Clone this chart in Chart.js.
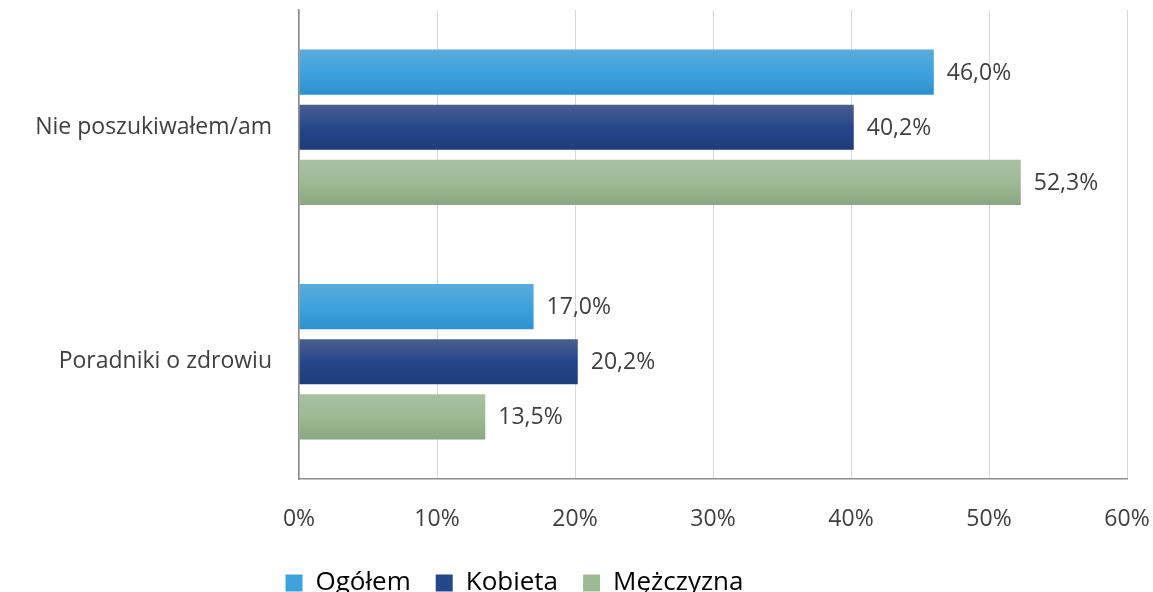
<!DOCTYPE html>
<html>
<head>
<meta charset="utf-8">
<script src="https://cdn.jsdelivr.net/npm/chart.js@4/dist/chart.umd.min.js"></script>
<style>
  html, body { margin: 0; padding: 0; background: #ffffff; }
  #wrap { width: 1153px; height: 592px; position: relative; }
</style>
</head>
<body>
<div id="wrap"><canvas id="c"></canvas></div>
<script>
const categories = ['Nie poszukiwałem/am', 'Poradniki o zdrowiu'];
const seriesNames = ['Ogółem', 'Kobieta', 'Mężczyzna'];
const ogolem = [46.0, 17.0];
const kobieta = [40.2, 20.2];
const mezczyzna = [52.3, 13.5];
const xTicks = [0, 10, 20, 30, 40, 50, 60];

const FONT = '"Open Sans", "Noto Sans", sans-serif';
const TEXT = '#404040';

const gradStops = [
  ['#5aaadc', '#3ea3dd', '#2b92cf'],
  ['#4b5f90', '#26468a', '#1d3c78'],
  ['#a9c0a3', '#9dba95', '#8aa682']
];
const solid = ['#3ea3dd', '#26468a', '#9dba95'];

const gradientPlugin = {
  id: 'barGradient',
  beforeDatasetsDraw(chart) {
    const ctx = chart.ctx;
    chart.data.datasets.forEach((ds, di) => {
      const meta = chart.getDatasetMeta(di);
      meta.data.forEach(bar => {
        const top = bar.y - bar.height / 2;
        const bot = bar.y + bar.height / 2;
        const g = ctx.createLinearGradient(0, top, 0, bot);
        const s = gradStops[di];
        g.addColorStop(0, s[0]);
        g.addColorStop(0.5, s[1]);
        g.addColorStop(1, s[2]);
        bar.options = Object.assign({}, bar.options, { backgroundColor: g });
      });
    });
  }
};

const labelPlugin = {
  id: 'valueLabels',
  afterDatasetsDraw(chart) {
    const ctx = chart.ctx;
    ctx.save();
    ctx.font = '23px ' + FONT;
    ctx.fillStyle = TEXT;
    ctx.textAlign = 'left';
    ctx.textBaseline = 'middle';
    chart.data.datasets.forEach((ds, di) => {
      const meta = chart.getDatasetMeta(di);
      meta.data.forEach((bar, i) => {
        const v = ds.data[i];
        const txt = v.toFixed(1).replace('.', ',') + '%';
        ctx.fillText(txt, bar.x + 13, bar.y + 1);
      });
    });
    ctx.restore();
  }
};

const legendShift = {
  id: 'legendShift',
  afterLayout(chart) {
    const lg = chart.legend;
    if (lg) {
      lg.left -= 49; lg.right -= 49;
      lg.top += 14; lg.bottom += 14;
    }
  }
};

new Chart(document.getElementById('c'), {
  type: 'bar',
  data: {
    labels: categories,
    datasets: [
      { label: seriesNames[0], data: ogolem, backgroundColor: solid[0] },
      { label: seriesNames[1], data: kobieta, backgroundColor: solid[1] },
      { label: seriesNames[2], data: mezczyzna, backgroundColor: solid[2] }
    ]
  },
  options: {
    indexAxis: 'y',
    responsive: true,
    maintainAspectRatio: false,
    animation: false,
    categoryPercentage: 0.705,
    barPercentage: 0.818,
    layout: { padding: { top: 10, right: 26, left: 0, bottom: 0 } },
    scales: {
      x: {
        min: 0, max: 60,
        afterBuildTicks(scale) { scale.ticks = xTicks.map(v => ({ value: v })); },
        ticks: {
          callback: v => v + '%',
          font: { family: FONT, size: 23, lineHeight: 1.0 },
          color: TEXT,
          padding: 0,
          maxRotation: 0
        },
        grid: { color: '#d9d9d9', lineWidth: 1, drawTicks: true, tickLength: 29, tickColor: 'rgba(0,0,0,0)' },
        border: { color: '#8c8c8c', width: 1.5 },
        afterFit(scale) { scale.height = 52; }
      },
      y: {
        ticks: {
          font: { family: FONT, size: 23, lineHeight: 0.8 },
          color: TEXT,
          padding: 0
        },
        grid: { display: true, drawOnChartArea: false, color: 'rgba(0,0,0,0)', drawTicks: true, tickLength: 27, tickColor: 'rgba(0,0,0,0)' },
        border: { color: '#8c8c8c', width: 1.5 },
        afterFit(scale) { scale.width = 299; }
      }
    },
    plugins: {
      legend: {
        position: 'bottom',
        labels: {
          font: { family: FONT, size: 26 },
          color: TEXT,
          boxWidth: 17,
          boxHeight: 17,
          padding: 25,
          generateLabels(chart) {
            return chart.data.datasets.map((ds, i) => ({
              text: ds.label,
              fillStyle: solid[i],
              strokeStyle: solid[i],
              lineWidth: 0,
              datasetIndex: i,
              hidden: false
            }));
          }
        }
      },
      tooltip: { enabled: false }
    }
  },
  plugins: [gradientPlugin, labelPlugin, legendShift]
});
</script>
</body>
</html>
